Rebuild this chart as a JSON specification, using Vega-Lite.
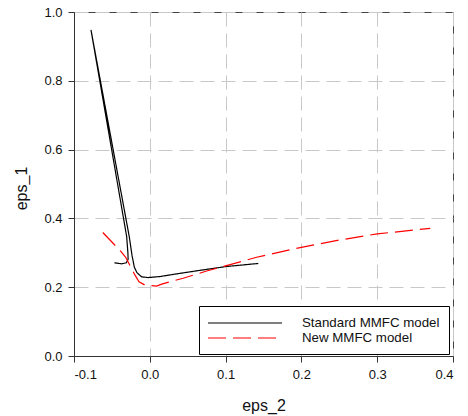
{
  "$schema": "https://vega.github.io/schema/vega-lite/v6.json",
  "width": 379,
  "height": 344,
  "autosize": "none",
  "padding": {"left": 74, "top": 12, "right": 15, "bottom": 60},
  "background": "white",
  "config": {
    "font": "Liberation Sans",
    "view": {"stroke": "#444", "strokeWidth": 1},
    "axis": {
      "domainColor": "#333",
      "tickColor": "#333",
      "tickSize": 6,
      "labelFontSize": 13,
      "labelColor": "#111",
      "labelFont": "Liberation Sans",
      "titleFont": "Liberation Sans",
      "titleFontSize": 16,
      "titleFontWeight": "normal",
      "titleColor": "#111",
      "gridColor": "#c8c8c8",
      "gridDash": [14, 7],
      "gridWidth": 1
    }
  },
  "data": {
    "values": [
      {"series": "Standard MMFC model", "order": 1, "x": -0.0468, "y": 0.271},
      {"series": "Standard MMFC model", "order": 2, "x": -0.0371, "y": 0.268},
      {"series": "Standard MMFC model", "order": 3, "x": -0.031, "y": 0.271},
      {"series": "Standard MMFC model", "order": 4, "x": -0.0286, "y": 0.281},
      {"series": "Standard MMFC model", "order": 5, "x": -0.0289, "y": 0.3},
      {"series": "Standard MMFC model", "order": 6, "x": -0.0305, "y": 0.347},
      {"series": "Standard MMFC model", "order": 7, "x": -0.0776, "y": 0.948},
      {"series": "Standard MMFC model", "order": 8, "x": -0.0271, "y": 0.347},
      {"series": "Standard MMFC model", "order": 9, "x": -0.0235, "y": 0.293},
      {"series": "Standard MMFC model", "order": 10, "x": -0.0204, "y": 0.258},
      {"series": "Standard MMFC model", "order": 11, "x": -0.0169, "y": 0.242},
      {"series": "Standard MMFC model", "order": 12, "x": -0.0107, "y": 0.23},
      {"series": "Standard MMFC model", "order": 13, "x": -0.002, "y": 0.228},
      {"series": "Standard MMFC model", "order": 14, "x": 0.0135, "y": 0.231},
      {"series": "Standard MMFC model", "order": 15, "x": 0.0332, "y": 0.238},
      {"series": "Standard MMFC model", "order": 16, "x": 0.0662, "y": 0.249},
      {"series": "Standard MMFC model", "order": 17, "x": 0.1005, "y": 0.26},
      {"series": "Standard MMFC model", "order": 18, "x": 0.1431, "y": 0.269},
      {"series": "New MMFC model", "order": 1, "x": -0.062, "y": 0.359},
      {"series": "New MMFC model", "order": 2, "x": -0.039, "y": 0.306},
      {"series": "New MMFC model", "order": 3, "x": -0.0318, "y": 0.287},
      {"series": "New MMFC model", "order": 4, "x": -0.0195, "y": 0.235},
      {"series": "New MMFC model", "order": 5, "x": -0.0142, "y": 0.216},
      {"series": "New MMFC model", "order": 6, "x": -0.0063, "y": 0.206},
      {"series": "New MMFC model", "order": 7, "x": 0.009, "y": 0.203},
      {"series": "New MMFC model", "order": 8, "x": 0.0157, "y": 0.209},
      {"series": "New MMFC model", "order": 9, "x": 0.027, "y": 0.216},
      {"series": "New MMFC model", "order": 10, "x": 0.044, "y": 0.226},
      {"series": "New MMFC model", "order": 11, "x": 0.075, "y": 0.247},
      {"series": "New MMFC model", "order": 12, "x": 0.1, "y": 0.262},
      {"series": "New MMFC model", "order": 13, "x": 0.141, "y": 0.287},
      {"series": "New MMFC model", "order": 14, "x": 0.2, "y": 0.316},
      {"series": "New MMFC model", "order": 15, "x": 0.25, "y": 0.337},
      {"series": "New MMFC model", "order": 16, "x": 0.3, "y": 0.355},
      {"series": "New MMFC model", "order": 17, "x": 0.37, "y": 0.371}
    ]
  },
  "mark": {"type": "line", "strokeWidth": 1.2, "clip": true},
  "encoding": {
    "x": {
      "field": "x", "type": "quantitative",
      "scale": {"domain": [-0.1, 0.4], "nice": false, "zero": false},
      "axis": {
        "values": [-0.1, 0, 0.1, 0.2, 0.3, 0.4],
        "format": ".1f",
        "labelExpr": "replace(datum.label, '\u2212', '-')",
        "labelPadding": 6,
        "title": "eps_2",
        "titleX": 189.5,
        "titleY": 54,
        "titleBaseline": "alphabetic",
        "titleAlign": "center"
      }
    },
    "y": {
      "field": "y", "type": "quantitative",
      "scale": {"domain": [0, 1], "nice": false},
      "axis": {
        "values": [0, 0.2, 0.4, 0.6, 0.8, 1.0],
        "format": ".1f",
        "labelPadding": 6,
        "title": "eps_1",
        "titleX": -48,
        "titleY": 176,
        "titleAngle": 270,
        "titleBaseline": "alphabetic",
        "titleAlign": "center"
      }
    },
    "order": {"field": "order", "type": "quantitative"},
    "color": {
      "field": "series", "type": "nominal",
      "scale": {"domain": ["Standard MMFC model", "New MMFC model"], "range": ["black", "red"]},
      "legend": {
        "title": null,
        "orient": "none",
        "legendX": 125,
        "legendY": 294,
        "symbolType": "M-5,0H5",
        "symbolSize": 219,
        "symbolStrokeWidth": 1.2,
        "symbolOffset": 29,
        "labelFontSize": 13.3,
        "labelColor": "#111",
        "labelOffset": 49,
        "strokeColor": "black",
        "fillColor": "white",
        "padding": 9,
        "rowPadding": 0
      }
    },
    "strokeDash": {
      "field": "series", "type": "nominal",
      "scale": {"domain": ["Standard MMFC model", "New MMFC model"], "range": [[1, 0], [18, 7]]},
      "legend": null
    }
  }
}
